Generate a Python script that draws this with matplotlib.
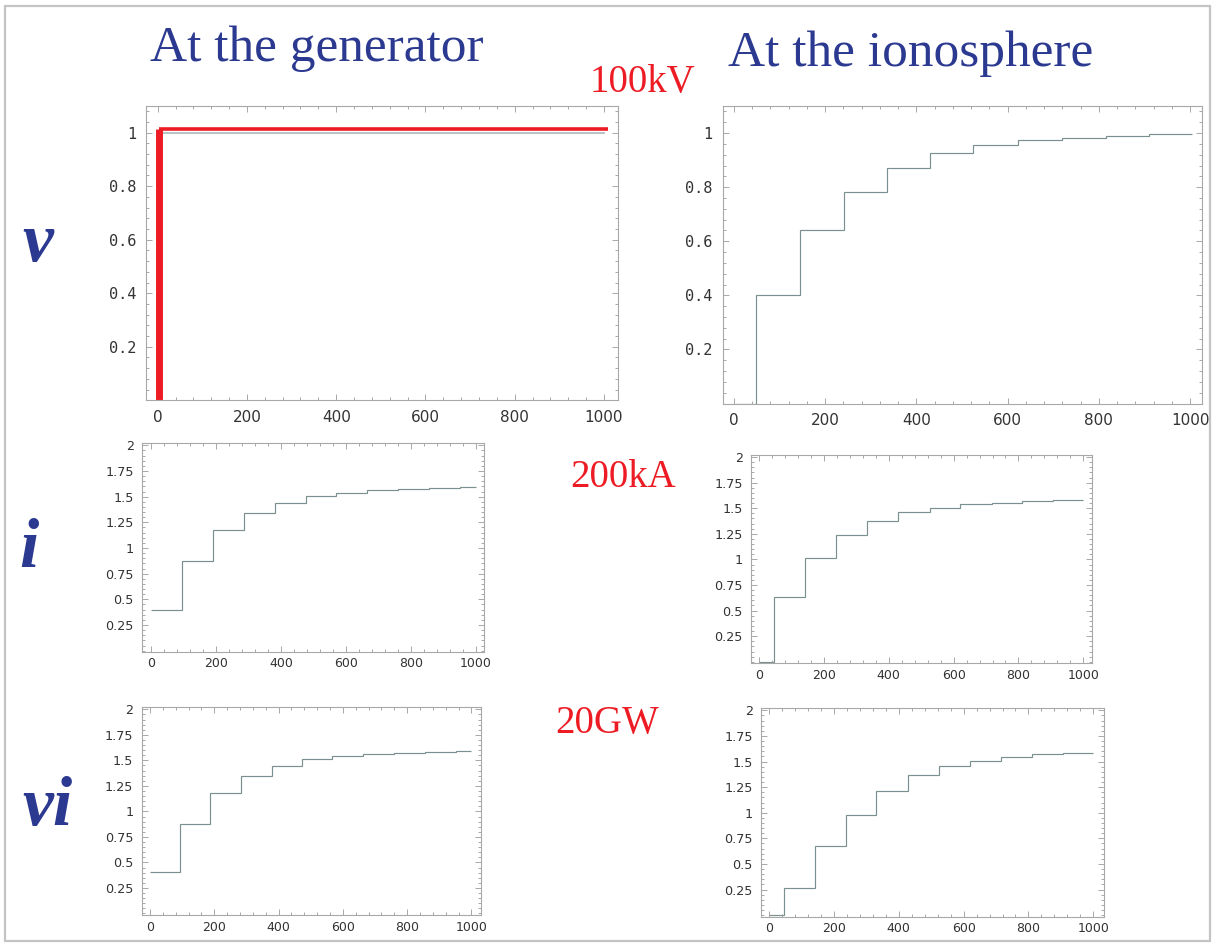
import matplotlib
matplotlib.use("Agg")
import matplotlib.pyplot as plt
from matplotlib.ticker import FixedLocator, AutoMinorLocator, FuncFormatter
from matplotlib.patches import Rectangle

W, H = 1213, 943
DPI = 100

# ---------------- data ----------------
# v at the generator: thin reference line and red overlay
gen_v_x = [0, 1000]
gen_v_y = [1.0, 1.0]
red_x = [3, 3, 1010]
red_y = [0.0, 1.012, 1.012]

# v at the ionosphere (step edges, levels)
ion_v_edges = [0, 49, 145, 241, 336, 430, 525, 623, 719, 815, 910, 1003]
ion_v_levels = [0.0, 0.40, 0.64, 0.783, 0.871, 0.927, 0.956, 0.975, 0.981, 0.989, 0.996]

# i at the generator
gen_i_edges = [0, 94, 190, 286, 381, 476, 571, 667, 762, 857, 953, 1000]
gen_i_levels = [0.40, 0.878, 1.175, 1.343, 1.443, 1.505, 1.54, 1.565, 1.575, 1.58, 1.595]

# i at the ionosphere
ion_i_edges = [0, 46, 142, 237, 333, 430, 526, 621, 717, 812, 908, 1000]
ion_i_levels = [0.0, 0.634, 1.01, 1.235, 1.38, 1.465, 1.505, 1.54, 1.555, 1.567, 1.58]

# vi at the generator
gen_p_edges = [0, 93, 188, 283, 378, 472, 567, 664, 760, 856, 953, 1000]
gen_p_levels = [0.41, 0.88, 1.178, 1.342, 1.444, 1.509, 1.545, 1.565, 1.575, 1.58, 1.595]

# vi at the ionosphere
ion_p_edges = [0, 46, 142, 236, 331, 428, 524, 619, 716, 812, 907, 1000]
ion_p_levels = [0.0, 0.263, 0.675, 0.98, 1.212, 1.367, 1.457, 1.505, 1.543, 1.572, 1.585]

x_ticks = [0, 200, 400, 600, 800, 1000]
v_ticks = [0.2, 0.4, 0.6, 0.8, 1.0]
big_ticks = [0.25, 0.5, 0.75, 1.0, 1.25, 1.5, 1.75, 2.0]

titles = ["At the generator", "At the ionosphere"]
units = ["100kV", "200kA", "20GW"]
row_labels = ["v", "i", "vi"]

# ---------------- style ----------------
BLUE = "#2b3990"
RED = "#ed1c24"
LINE = "#7a8f8f"
FRAME = "#a8a8a8"
TICKC = "#9a9a9a"
LABC = "#333333"


def rect(l, t, r, b):
    return [l / W, 1 - b / H, (r - l) / W, (b - t) / H]


def fmt(v, pos):
    if abs(v - round(v)) < 1e-9:
        return "%d" % round(v)
    s = ("%.2f" % v).rstrip("0")
    return s


fig = plt.figure(figsize=(W / DPI, H / DPI), dpi=DPI)
fig.patch.set_facecolor("white")

# outer border
fig.patches.append(Rectangle((5 / W, 1 - 941 / H), (1210 - 5) / W, (941 - 6) / H,
                             transform=fig.transFigure, fill=False,
                             edgecolor="#c4c4c4", linewidth=1.6))


def style_axes(ax, xlim, ylim, yticks, big):
    ax.set_xlim(*xlim)
    ax.set_ylim(*ylim)
    for s in ax.spines.values():
        s.set_color(FRAME)
        s.set_linewidth(0.8)
    ax.xaxis.set_major_locator(FixedLocator(x_ticks))
    ax.yaxis.set_major_locator(FixedLocator(yticks))
    ax.xaxis.set_minor_locator(AutoMinorLocator(5))
    ax.yaxis.set_minor_locator(AutoMinorLocator(5))
    ax.yaxis.set_major_formatter(FuncFormatter(fmt))
    ax.xaxis.set_major_formatter(FuncFormatter(fmt))
    ax.tick_params(which="both", direction="in", top=True, right=True, color=TICKC, width=0.6)
    ax.tick_params(which="major", length=4.5)
    ax.tick_params(which="minor", length=2.5)
    if big:
        ax.tick_params(axis="y", which="major", pad=7, labelsize=11, labelcolor=LABC)
        ax.tick_params(axis="x", which="major", pad=7, labelsize=11, labelcolor=LABC)
        for lab in ax.get_yticklabels():
            lab.set_family("DejaVu Sans Mono")
    else:
        ax.tick_params(axis="y", which="major", pad=6, labelsize=9.2, labelcolor=LABC)
        ax.tick_params(axis="x", which="major", pad=4, labelsize=9, labelcolor=LABC)


# Panel 1: v at generator
ax1 = fig.add_axes(rect(145.6, 105.9, 618.3, 400.3))
ax1.plot(gen_v_x, gen_v_y, color="#b8c4c4", lw=1.4)
ax1.plot(red_x[:2], red_y[:2], color=RED, lw=5, solid_capstyle="butt", clip_on=False)
ax1.plot(red_x[1:], red_y[1:], color=RED, lw=2.6, solid_capstyle="butt")
style_axes(ax1, (-27, 1032), (0, 1.1), v_ticks, True)

# Panel 2: v at ionosphere
ax2 = fig.add_axes(rect(722.5, 106, 1202, 403.6))
ax2.stairs(ion_v_levels, ion_v_edges, baseline=None, color=LINE, lw=0.85)
style_axes(ax2, (-25, 1026), (0, 1.1), v_ticks, True)

# Panel 3: i at generator
ax3 = fig.add_axes(rect(142.3, 443.3, 484.3, 651.7))
ax3.stairs(gen_i_levels, gen_i_edges, baseline=None, color=LINE, lw=0.85)
style_axes(ax3, (-27, 1027), (-0.01, 2.02), big_ticks, False)

# Panel 4: i at ionosphere
ax4 = fig.add_axes(rect(751, 455, 1091.7, 663.3))
ax4.stairs(ion_i_levels, ion_i_edges, baseline=None, color=LINE, lw=0.85, clip_on=False)
style_axes(ax4, (-25, 1026), (-0.015, 2.02), big_ticks, False)

# Panel 5: vi at generator
ax5 = fig.add_axes(rect(141.7, 707.3, 480.7, 915))
ax5.stairs(gen_p_levels, gen_p_edges, baseline=None, color=LINE, lw=0.85)
style_axes(ax5, (-26, 1029), (-0.015, 2.02), big_ticks, False)

# Panel 6: vi at ionosphere
ax6 = fig.add_axes(rect(761, 708.3, 1104, 916.7))
ax6.stairs(ion_p_levels, ion_p_edges, baseline=None, color=LINE, lw=0.85, clip_on=False)
style_axes(ax6, (-25, 1033), (-0.015, 2.02), big_ticks, False)


def ftext(x, y, s, **kw):
    fig.text(x / W, 1 - y / H, s, **kw)


ftext(150, 61, titles[0], fontsize=37, color=BLUE, family="Liberation Serif", ha="left", va="baseline")
ftext(728, 66, titles[1], fontsize=37, color=BLUE, family="Liberation Serif", ha="left", va="baseline")

ftext(590, 92, units[0], fontsize=28, color=RED, family="Liberation Serif", ha="left", va="baseline")
ftext(570, 487, units[1], fontsize=28, color=RED, family="Liberation Serif", ha="left", va="baseline")
ftext(555, 733, units[2], fontsize=28, color=RED, family="Liberation Serif", ha="left", va="baseline")

ftext(22, 261, row_labels[0], fontsize=50, color=BLUE, family="Liberation Serif", weight="bold",
      style="italic", ha="left", va="baseline")
ftext(19, 567, row_labels[1], fontsize=50, color=BLUE, family="Liberation Serif", weight="bold",
      style="italic", ha="left", va="baseline")
ftext(22, 825, row_labels[2], fontsize=50, color=BLUE, family="Liberation Serif", weight="bold",
      style="italic", ha="left", va="baseline")

fig.savefig("out.png", dpi=DPI, facecolor="white")
